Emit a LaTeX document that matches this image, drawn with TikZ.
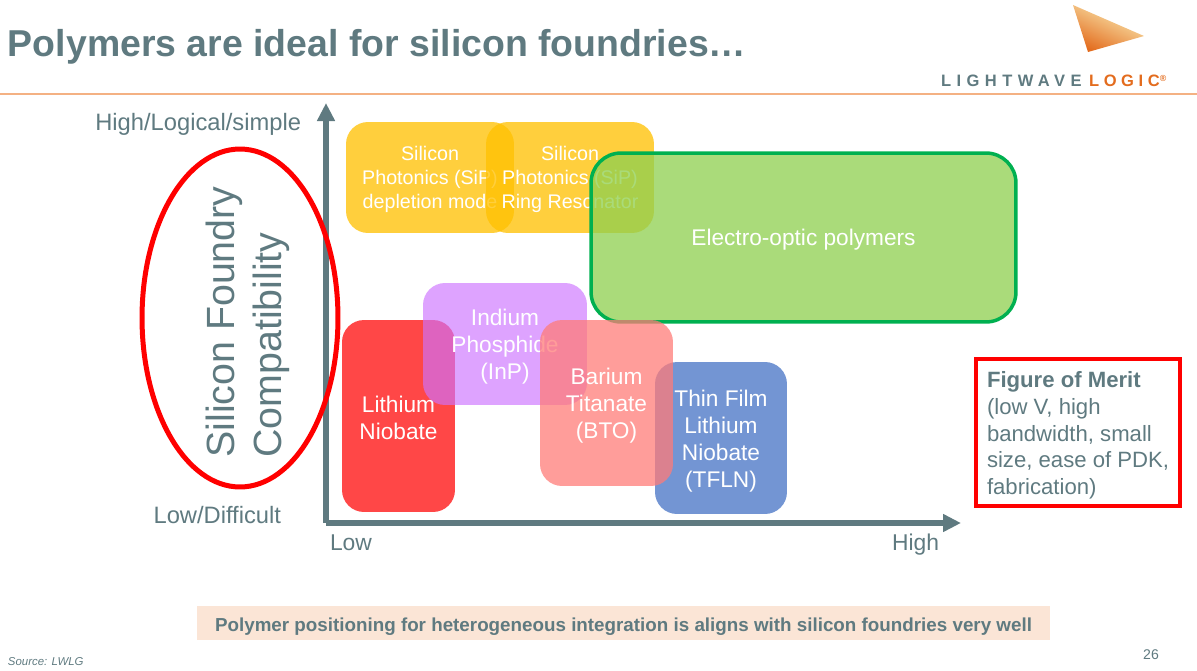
\documentclass[tikz,border=0pt]{standalone}
\usepackage{fontspec}
\setmainfont{Liberation Sans}
\usetikzlibrary{arrows.meta, positioning, shapes.geometric}
\definecolor{slate}{HTML}{5F7A80}
\definecolor{rulecol}{HTML}{F4B183}
\definecolor{goldfill}{HTML}{FFC000}
\definecolor{leaffill}{HTML}{8FD050}
\definecolor{leafline}{HTML}{00B050}
\definecolor{lilac}{HTML}{CC72FF}
\definecolor{salmon}{HTML}{FF7C78}
\definecolor{denim}{HTML}{4472C4}
\definecolor{peach}{HTML}{FBE5D6}
\definecolor{logoorange}{HTML}{E36C1E}
\definecolor{logocream}{HTML}{FBF0B8}
\begin{document}
\begin{tikzpicture}[
    x=0.02cm, y=-0.02cm,
    every node/.style={inner sep=0pt, outer sep=0pt},
    matbox/.style={rectangle, rounded corners=0.44cm, fill opacity=0.76},
    mattext/.style={text=white, align=center, font=\fontsize{12.9}{15.4}\selectfont},
    siptext/.style={text=white, align=center, font=\fontsize{11.2}{13.8}\selectfont},
    axislabel/.style={font=\fontsize{13}{15}\selectfont, text=slate},
    axisline/.style={-{Triangle[length=0.36cm, width=0.34cm]}, line width=0.11cm, draw=slate},
]
\useasboundingbox (0,0) rectangle (1197,670);

% Header
\node[anchor=west, text=slate, font=\bfseries\fontsize{21.3}{26}\selectfont] (title) at (8,47) {Polymers are ideal for silicon foundries…};
\coordinate (ruleL) at (0,94);
\coordinate (ruleR) at (1197,94);
\draw[rulecol, line width=0.03cm] (ruleL) -- (ruleR);

% Logo
\begin{scope}
    \clip (1073,5) -- (1144,36) -- (1088,52) -- cycle;
    \shade[top color=logocream, bottom color=logoorange, shading angle=-25]
        (1073,5) rectangle (1144,52);
\end{scope}
\node[anchor=west, font=\bfseries\fontsize{9.4}{11}\selectfont] (logo) at (941,81)
    {\addfontfeatures{LetterSpace=33}\textcolor{slate}{LIGHTWAVE}\hspace{0.15cm}\addfontfeatures{LetterSpace=28}\textcolor{logoorange}{LOGIC}\raisebox{0.1cm}{\fontsize{5}{5}\selectfont\textcolor{logoorange}{®}}};

% Materials
\node[matbox, fill=goldfill, minimum width=3.36cm, minimum height=2.22cm] (sipdep) at (430,177.5) {};
\node[siptext] (sipdeptext) at (430,179.5) {Silicon\\Photonics (SiP)\\depletion mode};
\node[matbox, fill=goldfill, minimum width=3.36cm, minimum height=2.22cm] (sipring) at (570,177.5) {};
\node[siptext] (sipringtext) at (570,179.5) {Silicon\\Photonics (SiP)\\Ring Resonator};
\node[matbox, fill=leaffill, draw=leafline, draw opacity=1, line width=0.07cm, minimum width=8.5cm, minimum height=3.38cm, rounded corners=0.6cm] (eop) at (803.5,237.5) {};
\node[mattext] (eoptext) at (803.5,240) {Electro-optic polymers};
\node[matbox, fill=red, fill opacity=0.72, minimum width=2.26cm, minimum height=3.84cm] (linb) at (398.5,416) {};
\node[mattext] (linbtext) at (398.5,418) {Lithium\\Niobate};
\node[matbox, fill=lilac, fill opacity=0.65, minimum width=3.28cm, minimum height=2.44cm] (inp) at (505,344) {};
\node[mattext] (inptext) at (505,347) {Indium\\Phosphide\\(InP)};
\node[matbox, fill=denim, fill opacity=0.75, minimum width=2.64cm, minimum height=3.04cm] (tfln) at (721,438) {};
\node[mattext] (tflntext) at (721,441) {Thin Film\\Lithium\\Niobate\\(TFLN)};
\node[matbox, fill=salmon, fill opacity=0.75, minimum width=2.66cm, minimum height=3.32cm] (bto) at (606.5,403) {};
\node[mattext] (btotext) at (606.5,406) {Barium\\Titanate\\(BTO)};

% Axes
\coordinate (origin) at (326,523);
\coordinate (ytip) at (326,103);
\coordinate (xtip) at (961,523);
\draw[axisline] (origin) -- (ytip);
\draw[axisline] (origin) -- (xtip);
\node[axislabel, font=\fontsize{13.5}{15}\selectfont, anchor=east] (yhigh) at (301,124) {High/Logical/simple};
\node[axislabel, font=\fontsize{13.5}{15}\selectfont, anchor=east] (ylow) at (281,515) {Low/Difficult};
\node[axislabel, anchor=west] (xlow) at (330,543) {Low};
\node[axislabel, anchor=east] (xhigh) at (939,545) {High};

% Compatibility
\node[rotate=90, align=left, text=slate, font=\fontsize{22.4}{26.5}\selectfont] (compat) at (248,322) {Silicon Foundry\\Compatibility};
\node[ellipse, draw=red, line width=0.1cm, minimum width=3.92cm, minimum height=6.76cm] (oval) at (240,318) {};

% Merit
\node[rectangle, draw=red, line width=0.09cm, minimum width=4.08cm, minimum height=2.94cm] (meritbox) at (1078,432.5) {};
\node[anchor=west, align=left, text=slate, font=\fontsize{12.6}{15.2}\selectfont] (merit) at (987,435.5) {\textbf{Figure of Merit}\\(low V, high\\bandwidth, small\\size, ease of PDK,\\fabrication)};

% Footer
\node[rectangle, fill=peach, minimum width=17.06cm, minimum height=0.68cm] (banner) at (623.5,623) {};
\node[text=slate, font=\bfseries\fontsize{10.7}{13}\selectfont] (bannertext) at (623.5,627) {Polymer positioning for heterogeneous integration is aligns with silicon foundries very well};
\node[anchor=west, text=slate, font=\itshape\fontsize{6.5}{8}\selectfont] (source) at (8,662) {Source: LWLG};
\node[text=slate, font=\fontsize{8}{10}\selectfont] (pagenum) at (1151,655) {26};
\end{tikzpicture}
\end{document}
